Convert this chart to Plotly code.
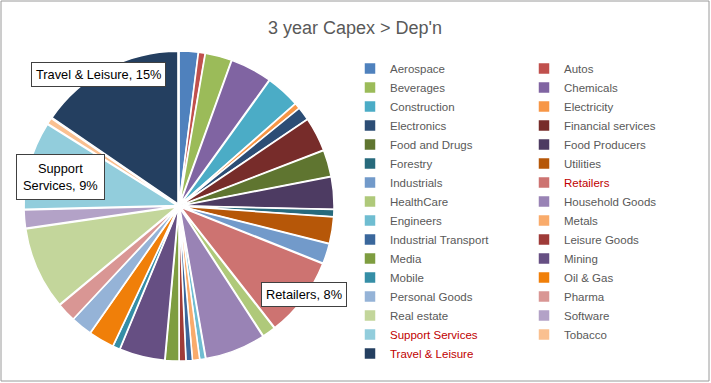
import plotly.graph_objects as go

categories = ["Aerospace", "Autos", "Beverages", "Chemicals", "Construction", "Electricity",
              "Electronics", "Financial services", "Food and Drugs", "Food Producers", "Forestry",
              "Utilities", "Industrials", "Retailers", "HealthCare", "Household Goods", "Engineers",
              "Metals", "Industrial Transport", "Leisure Goods", "Media", "Mining", "Mobile",
              "Oil & Gas", "Personal Goods", "Pharma", "Real estate", "Software",
              "Support Services", "Tobacco", "Travel & Leisure"]
# share of total (percent)
values = [2.0, 0.7, 2.8, 4.4, 3.6, 0.6,
          1.4, 3.6, 2.8, 3.4, 0.75,
          2.8, 2.1, 8.4, 1.4, 6.4, 0.6,
          0.75, 0.67, 0.7, 1.45, 4.8, 0.75,
          2.7, 2.25, 2.0, 8.7, 1.9,
          9.3, 0.65, 15.4]
colors = ["#4F81BD", "#C0504D", "#9BBB59", "#8064A2", "#4BACC6", "#F79646",
          "#2C4D75", "#772C2A", "#5F7530", "#4D3B62", "#276A7C", "#B65708",
          "#729ACA", "#CD7371", "#AFC97A", "#9983B5", "#6FBDD1", "#F9AB6B",
          "#3A679C", "#9F3B38", "#7E9D40", "#664F83", "#358EA6", "#F07F09",
          "#95B3D7", "#D99694", "#C3D69B", "#B3A2C7", "#92CDDC", "#FAC090",
          "#243F60"]
highlighted = ["Retailers", "Support Services", "Travel & Leisure"]

W, H = 711, 383
R_MARGIN = 360
PW = W - R_MARGIN


def px(x):
    return x / PW


def py(y):
    return (H - y) / H


legend_labels = [f'<span style="color:#C00000">{c}</span>' if c in highlighted else c
                 for c in categories]

fig = go.Figure(go.Pie(
    labels=legend_labels,
    values=values,
    sort=False,
    direction="clockwise",
    rotation=0,
    marker=dict(colors=colors, line=dict(color="white", width=1.5)),
    pull=0.015,
    textinfo="none",
    hoverinfo="label+percent",
    domain=dict(x=[px(24), px(334)], y=[py(361), py(51)]),
))

total = sum(values)
label_pos = {
    "Travel & Leisure": (98, 75, 4, "{c}, {p}%"),
    "Support Services": (60, 177, 6, "Support<br>Services, {p}%"),
    "Retailers": (304, 294, 4, "{c}, {p}%"),
}
for c, (x, y, pad, tpl) in label_pos.items():
    p = round(values[categories.index(c)] / total * 100)
    fig.add_annotation(
        x=px(x), y=py(y), xref="paper", yref="paper", showarrow=False,
        xanchor="center", yanchor="middle",
        text=tpl.format(c=c, p=p),
        font=dict(family="Liberation Sans", size=12.8, color="#000000"),
        bgcolor="white", bordercolor="#404040", borderwidth=1, borderpad=pad,
        align="center",
    )

fig.add_shape(type="rect", xref="paper", yref="paper",
              x0=px(1), x1=px(709), y0=py(381), y1=py(1),
              line=dict(color="#9A9A9A", width=1), fillcolor="rgba(0,0,0,0)")

fig.update_layout(
    width=W, height=H,
    margin=dict(l=0, r=R_MARGIN, t=0, b=0, autoexpand=False),
    paper_bgcolor="white", plot_bgcolor="white",
    title=dict(text="3 year Capex > Dep'n", x=355 / W, xanchor="center",
               y=1 - 28 / H, yanchor="middle", xref="container", yref="container",
               font=dict(family="Liberation Sans", size=18, color="#595959")),
    showlegend=True,
    legend=dict(orientation="h", x=px(350), xanchor="left", y=py(54), yanchor="top",
                entrywidth=129, entrywidthmode="pixels", traceorder="normal",
                maxheight=360,
                font=dict(family="Liberation Sans", size=11.5, color="#595959"),
                bgcolor="rgba(0,0,0,0)", itemclick=False, itemdoubleclick=False),
)

fig.write_html("out.html", config={"displayModeBar": False},
               post_script="document.body.style.margin='0px';")
